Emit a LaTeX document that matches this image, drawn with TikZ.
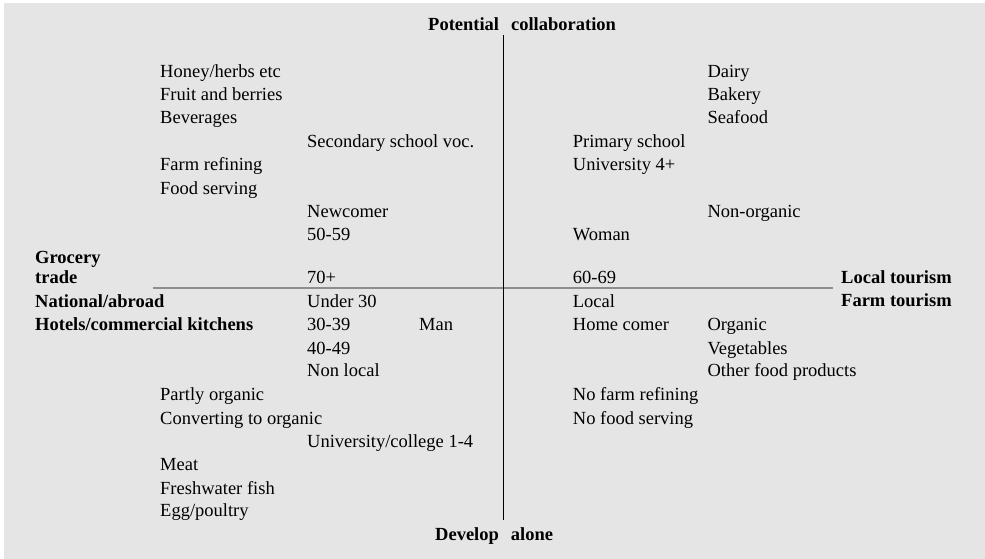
\documentclass[tikz,border=0pt]{standalone}
\usepackage{fontspec}
\setmainfont{Liberation Serif}
\definecolor{bgc}{HTML}{E5E5E5}
\definecolor{hline}{HTML}{8E8E8E}
\begin{document}
\begin{tikzpicture}[x=1pt,y=-1pt,
  lbl/.style={anchor=base west,inner sep=0pt,font=\fontsize{18.5}{22}\selectfont},
  blbl/.style={lbl,font=\fontsize{18.5}{22}\selectfont\bfseries}]
\useasboundingbox (0,0) rectangle (985,559);
\fill[bgc] (4,3) rectangle (985,559);
% axes
\coordinate (vtop) at (503.3,35);
\coordinate (vbot) at (503.3,520);
\coordinate (hl) at (153,288);
\coordinate (hr) at (833,288);
\draw[hline,line width=2pt] (hl) -- (hr);
\draw[black,line width=1.6pt] (vtop) -- (vbot);
% axis titles
\node[blbl] (pc) at (428,30.7) {Potential\hspace{12pt}collaboration};
\node[blbl] (da) at (435,540.7) {Develop\hspace{12pt}alone};
% left bold
\node[blbl] (gro) at (35,263.3) {Grocery};
\node[blbl] (tra) at (35,283.3) {trade};
\node[blbl] (nat) at (35,307.3) {National/abroad};
\node[blbl] (hot) at (35,330.7) {Hotels/commercial kitchens};
% right bold
\node[blbl] (lt) at (841,283.3) {Local tourism};
\node[blbl] (ft) at (841,306.7) {Farm tourism};
% upper-left column
\node[lbl] (hon) at (160,77.3) {Honey/herbs etc};
\node[lbl] (fru) at (160,100.7) {Fruit and berries};
\node[lbl] (bev) at (160,124) {Beverages};
\node[lbl] (sec) at (307,147.3) {Secondary school voc.};
\node[lbl] (far) at (160,170.7) {Farm refining};
\node[lbl] (foo) at (160,194) {Food serving};
\node[lbl] (new) at (307,217.3) {Newcomer};
\node[lbl] (a50) at (307,240.7) {50-59};
\node[lbl] (a70) at (307,283.3) {70+};
% lower-left
\node[lbl] (u30) at (307,307.3) {Under 30};
\node[lbl] (a30) at (307,330.7) {30-39};
\node[lbl] (man) at (419,330.7) {Man};
\node[lbl] (a40) at (307,354) {40-49};
\node[lbl] (nlo) at (307,376.7) {Non local};
\node[lbl] (par) at (160,400.7) {Partly organic};
\node[lbl] (con) at (160,424) {Converting to organic};
\node[lbl] (uni) at (307,447.3) {University/college 1-4};
\node[lbl] (mea) at (160,470) {Meat};
\node[lbl] (fre) at (160,494) {Freshwater fish};
\node[lbl] (egg) at (160,516.7) {Egg/poultry};
% upper-right
\node[lbl] (dai) at (707.3,77.3) {Dairy};
\node[lbl] (bak) at (707.3,100.7) {Bakery};
\node[lbl] (sea) at (707.3,124) {Seafood};
\node[lbl] (pri) at (572.7,147.3) {Primary school};
\node[lbl] (u4) at (572.7,170.7) {University 4+};
\node[lbl] (non) at (707.3,217.3) {Non-organic};
\node[lbl] (wom) at (572.7,240.7) {Woman};
\node[lbl] (a60) at (572.7,283.3) {60-69};
% lower-right
\node[lbl] (loc) at (572.7,307.3) {Local};
\node[lbl] (hom) at (572.7,330.7) {Home comer};
\node[lbl] (org) at (707.3,330.7) {Organic};
\node[lbl] (veg) at (707.3,354) {Vegetables};
\node[lbl] (oth) at (707.3,376.7) {Other food products};
\node[lbl] (nfr) at (572.7,400.7) {No farm refining};
\node[lbl] (nfs) at (572.7,424) {No food serving};
\end{tikzpicture}
\end{document}
